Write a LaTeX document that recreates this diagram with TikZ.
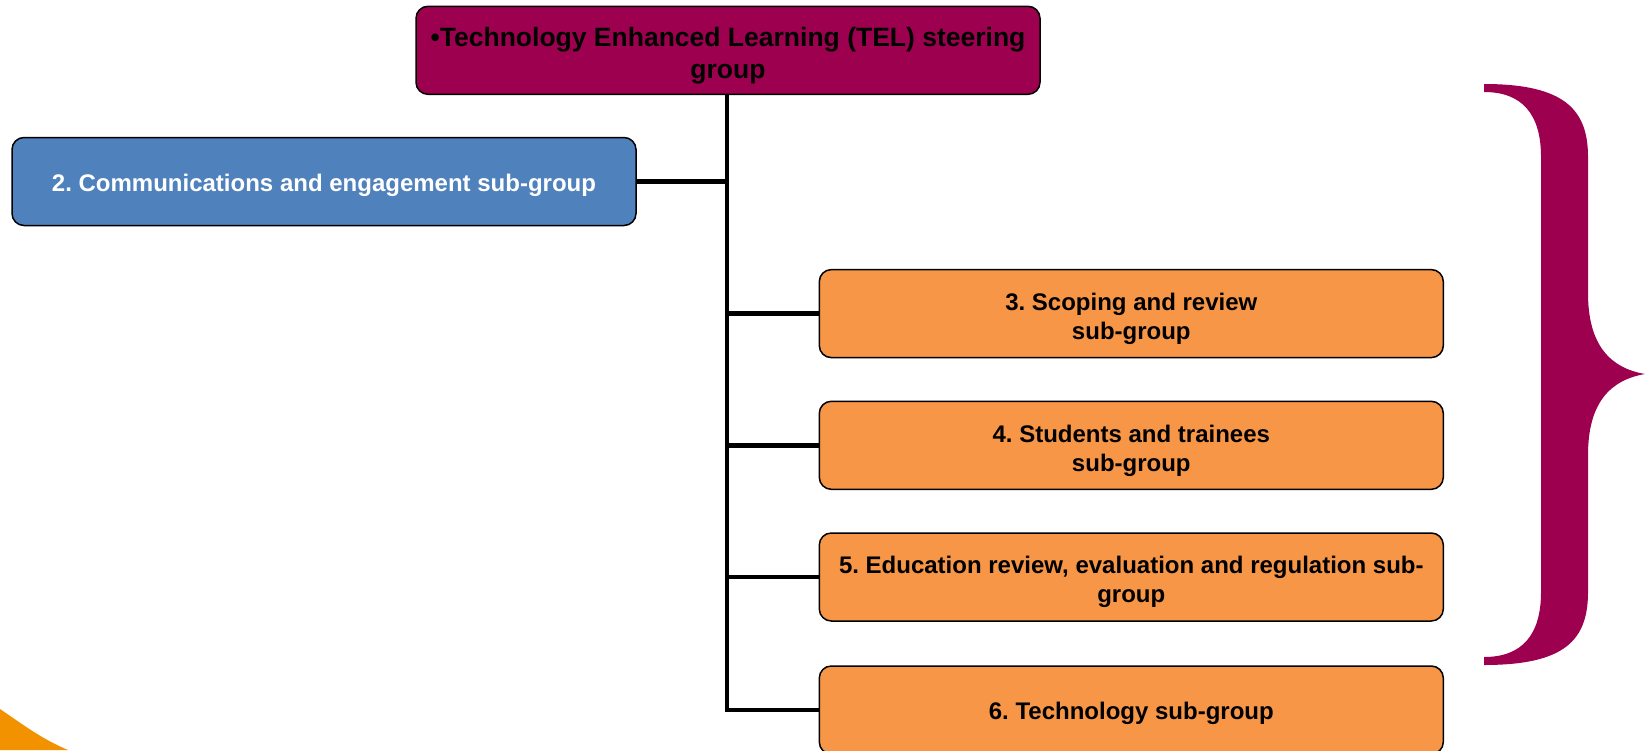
\documentclass[tikz,border=0pt]{standalone}
\usepackage{fontspec}
\setmainfont{Liberation Sans}
\frenchspacing
\definecolor{telmaroon}{HTML}{9E0050}
\definecolor{telblue}{HTML}{4F81BD}
\definecolor{telorange}{HTML}{F79646}
\definecolor{cornerorange}{HTML}{F39200}
\newcommand{\grouptext}[2][4pt]{\raisebox{-#1}[\height][\depth]{\begin{tabular}{@{}c@{}}#2\end{tabular}}}
\tikzset{
  groupbox/.style={draw=black, line width=1.5pt, rounded corners=12pt,
    minimum width=624pt, minimum height=88pt,
    font=\bfseries\fontsize{24}{29}\selectfont, inner sep=4pt},
  topbox/.style={groupbox, fill=telmaroon, text=black,
    font=\bfseries\fontsize{26.5}{32}\selectfont},
  bluebox/.style={groupbox, fill=telblue, text=white},
  orangebox/.style={groupbox, fill=telorange, text=black},
  link/.style={draw=black, line width=4.5pt, line join=miter}
}
\begin{document}
\begin{tikzpicture}[x=1pt,y=-1pt]
\useasboundingbox (0,0) rectangle (1645,750);
% corner decoration
\fill[cornerorange] (0,709) .. controls (25,726) and (42,739) .. (68,750) -- (0,750) -- cycle;
% brace
\fill[telmaroon] (1484,84) .. controls (1565,84) and (1588,110) .. (1588,157)
  -- (1588,293) .. controls (1588,345) and (1610,368) .. (1645,374)
  .. controls (1610,380) and (1588,403) .. (1588,455)
  -- (1588,592) .. controls (1588,640) and (1565,665) .. (1484,665)
  -- (1484,657) .. controls (1522,657) and (1541,635) .. (1541,592)
  -- (1541,157) .. controls (1541,114) and (1522,92) .. (1484,92) -- cycle;
\coordinate (trunk) at (727,94);
\node[topbox] (top) at (728,50.3) {\grouptext[5.5pt]{\textbullet Technology Enhanced Learning (TEL) steering\\group}};
\node[bluebox] (blue) at (324,181.5) {\grouptext{2. Communications and engagement sub-group}};
\node[orangebox] (o3) at (1131.3,313.6) {\grouptext[5.5pt]{3. Scoping and review\\sub-group}};
\node[orangebox] (o4) at (1131.3,445.3) {\grouptext[5.5pt]{4. Students and trainees\\sub-group}};
\node[orangebox] (o5) at (1131.3,577) {\grouptext[5.5pt]{5. Education review, evaluation and regulation sub-\\group}};
\node[orangebox] (o6) at (1131.3,710) {\grouptext{6. Technology sub-group}};
\draw[link] (trunk) -- (trunk |- o6.west) -- (o6.west);
\draw[link] (trunk |- blue.east) -- (blue.east);
\draw[link] (trunk |- o3.west) -- (o3.west);
\draw[link] (trunk |- o4.west) -- (o4.west);
\draw[link] (trunk |- o5.west) -- (o5.west);
\end{tikzpicture}
\end{document}
